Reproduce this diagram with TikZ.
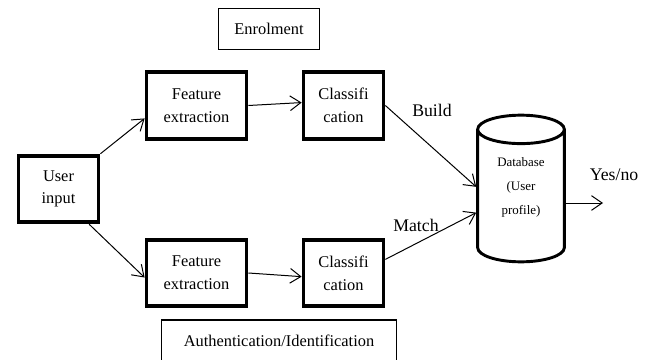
\documentclass[tikz,border=0pt]{standalone}
\usepackage{fontspec}
\setmainfont{Liberation Serif}
\usetikzlibrary{shapes.geometric,arrows.meta}
\begin{document}
\begin{tikzpicture}[x=0.75pt, y=-0.75pt, >={Straight Barb[length=8pt,width=11pt]}]
  \tikzstyle{block}=[rectangle, draw, line width=2.8pt, minimum width=75pt, minimum height=50pt, inner sep=0pt, align=center, font=\fontsize{12.3}{17}\selectfont]
  \tikzstyle{small}=[block, minimum width=60pt]
  \tikzstyle{phase}=[rectangle, draw, line width=0.8pt, inner sep=0pt, font=\fontsize{12.3}{15}\selectfont]
  \tikzstyle{lbl}=[inner sep=0pt, font=\fontsize{13.3}{15}\selectfont]
  \tikzstyle{conn}=[->, line width=0.75pt]

  \useasboundingbox (0,0) rectangle (654,360);
  \clip (0,0) rectangle (654,360);

  \node[phase, minimum width=76pt, minimum height=31pt] (enrol) at (269,29)  {Enrolment};
  \node[phase, minimum width=176pt, minimum height=31.5pt] (auth)  at (279,341) {Authentication/Identification};

  \node[small] (user) at (58.5,189)  {User\\input};
  \node[block] (fe1)  at (196.5,105.5) {Feature\\extraction};
  \node[small] (cl1)  at (343.5,105.5) {Classifi\\cation};
  \node[block] (fe2)  at (196.5,273) {Feature\\extraction};
  \node[small] (cl2)  at (343.5,273) {Classifi\\cation};

  \node[cylinder, shape border rotate=90, draw, line width=2.2pt, minimum width=65pt, minimum height=110pt, aspect=0.6, inner sep=0pt, anchor=shape center, align=center, text depth=15pt, font=\fontsize{9.7}{18}\selectfont] (db) at (521,188.5) {Database\\(User\\profile)};

  \node[lbl] (build) at (432,110) {Build};
  \node[lbl] (match) at (416,225) {Match};
  \node[lbl] (yesno) at (614,175) {Yes/no};
  \coordinate (out) at (603,203);

  \path[conn] (user.north east) edge (fe1.194);
  \path[conn] (user.-49) edge (fe2.185);
  \path[conn] (fe1.east) edge (cl1.176);
  \path[conn] (fe2.east) edge (cl2.185);
  \path[conn] (cl1.east) edge (db.168);
  \path[conn] (cl2.18) edge (db.200);
  \path[conn] (db.east |- out) edge (out);
\end{tikzpicture}
\end{document}
